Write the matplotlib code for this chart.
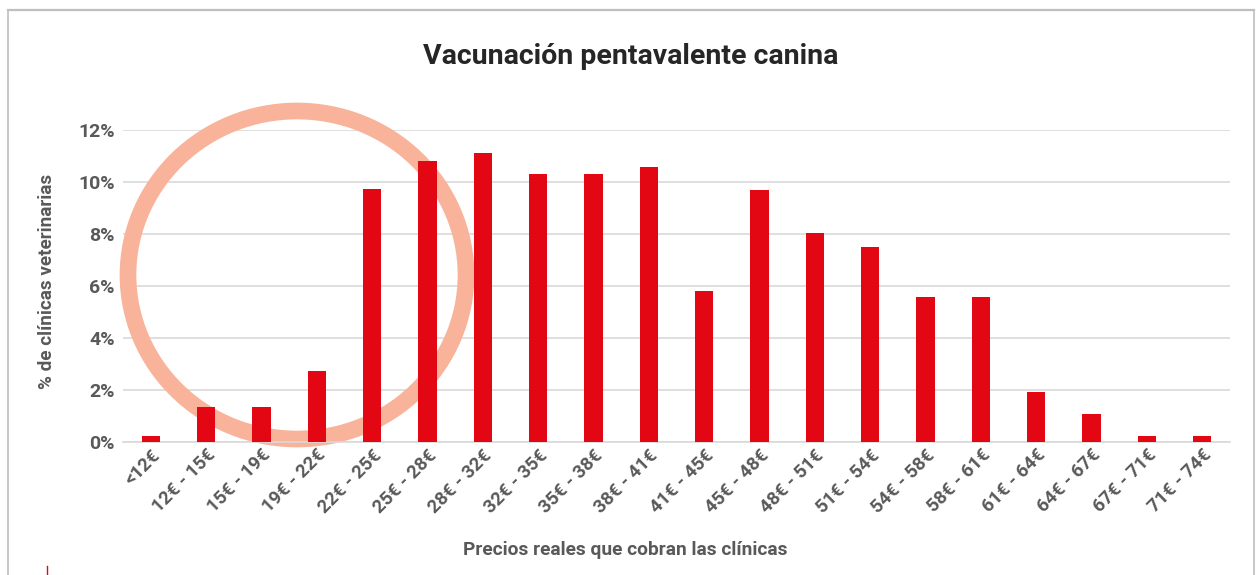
import matplotlib
matplotlib.use("Agg")
import matplotlib.pyplot as plt
from matplotlib.patches import Ellipse
from matplotlib.lines import Line2D
from matplotlib.ticker import PercentFormatter

categories = ["<12€", "12€ - 15€", "15€ - 19€", "19€ - 22€", "22€ - 25€", "25€ - 28€",
              "28€ - 32€", "32€ - 35€", "35€ - 38€", "38€ - 41€", "41€ - 45€", "45€ - 48€",
              "48€ - 51€", "51€ - 54€", "54€ - 58€", "58€ - 61€", "61€ - 64€", "64€ - 67€",
              "67€ - 71€", "71€ - 74€"]
values = [0.25, 1.35, 1.35, 2.73, 9.73, 10.81, 11.12, 10.31, 10.31, 10.58,
          5.81, 9.69, 8.04, 7.5, 5.58, 5.58, 1.92, 1.08, 0.25, 0.25]
yticks = [0, 2, 4, 6, 8, 10, 12]

title = "Vacunación pentavalente canina"
xlabel = "Precios reales que cobran las clínicas"
ylabel = "% de clínicas veterinarias"

W, H = 1258, 575
fig = plt.figure(figsize=(W / 100, H / 100), dpi=100)
plt.rcParams['font.family'] = ['Roboto', 'DejaVu Sans']

ax = fig.add_axes([123 / W, (H - 442) / H, (1230 - 123) / W, (442 - 130) / H])
x = list(range(len(categories)))
ax.bar(x, values, width=0.33, color="#E30613", zorder=3)
ax.set_xlim(-0.5, len(categories) - 0.5)
ax.set_ylim(0, 12)
ax.set_yticks(yticks)
ax.yaxis.set_major_formatter(PercentFormatter(decimals=0))
ax.grid(axis="y", color="#D9D9D9", linewidth=1.2, zorder=0)
ax.set_axisbelow(True)
for s in ["top", "right", "left"]:
    ax.spines[s].set_visible(False)
ax.spines["bottom"].set_color("#D9D9D9")
ax.spines["bottom"].set_linewidth(1.2)
ax.tick_params(axis="both", length=0, colors="#595959")
ax.tick_params(axis="y", pad=6)
ax.tick_params(axis="x", pad=3)
ax.set_xticks(x)
ax.set_xticklabels(categories, rotation=45, ha="right", rotation_mode="anchor",
                   fontsize=13.5, fontweight="bold", color="#595959")
for lab in ax.get_yticklabels():
    lab.set_fontsize(14)
    lab.set_fontweight("bold")
    lab.set_color("#595959")

fig.text(631 / W, 1 - 57 / H, title, ha="center", va="center", fontsize=20.5,
         fontweight="bold", color="#262626")
fig.text(625 / W, 1 - 550 / H, xlabel, ha="center", va="center", fontsize=13.8,
         fontweight="bold", color="#595959")
fig.text(47 / W, 1 - 281 / H, ylabel, ha="center", va="center", rotation=90,
         fontsize=13.6, fontweight="bold", color="#595959")

# highlight ring
ring = Ellipse((297 / 100, (H - 275) / 100), 3.38, 3.28, transform=fig.dpi_scale_trans,
               fill=False, edgecolor="#F8B39A", linewidth=12, zorder=2)
ax.add_artist(ring)
ring.set_clip_on(False)

# frame
fig.add_artist(Line2D([8 / W, 1254 / W], [1 - 10 / H, 1 - 10 / H], color="#BFBFBF", linewidth=1.6))
fig.add_artist(Line2D([8 / W, 8 / W], [0, 1 - 10 / H], color="#BFBFBF", linewidth=1.2))
fig.add_artist(Line2D([1254 / W, 1254 / W], [0, 1 - 10 / H], color="#BFBFBF", linewidth=1.2))
fig.add_artist(Line2D([47 / W, 47 / W], [0, 9 / H], color="#E30613", linewidth=1.0))

fig.savefig("out.png", dpi=100)
